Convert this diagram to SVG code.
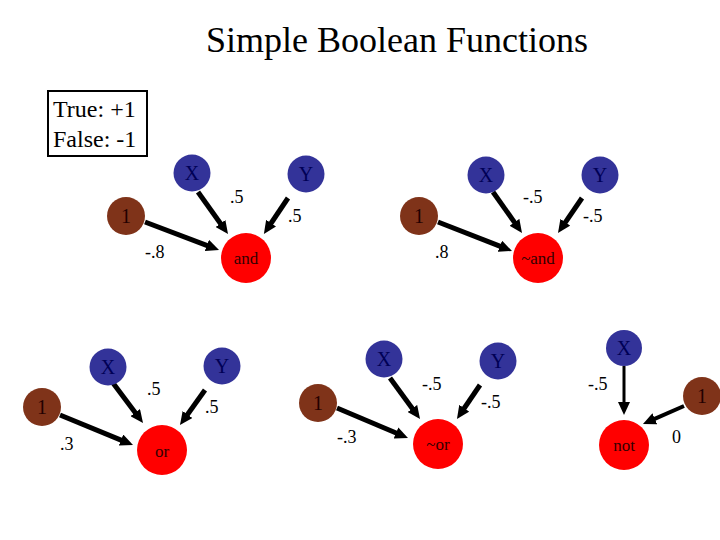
<svg xmlns="http://www.w3.org/2000/svg" width="720" height="540" viewBox="0 0 720 540">
<defs>
<style>
text{font-family:"Liberation Serif","Times New Roman",serif;}
.title{font-size:36px;fill:#000;text-anchor:middle;}
.box{fill:#fff;stroke:#000;stroke-width:2;}
.legend{font-size:24px;fill:#000;}
.in{fill:#333399;}
.bias{fill:#7f3319;}
.out{fill:#ff0000;}
.nt{font-size:20px;text-anchor:middle;}
.in-t{fill:#000055;}
.bias-t{fill:#220000;}
.out-t{font-size:17px;fill:#330000;text-anchor:middle;}
.w{font-size:18px;fill:#000;}
.e{stroke:#000;stroke-width:5;fill:none;marker-end:url(#ah);}
.e3{stroke:#000;stroke-width:3;fill:none;marker-end:url(#ah);}
.e4{stroke:#000;stroke-width:4;fill:none;marker-end:url(#ah);}
</style>
<marker id="ah" markerUnits="userSpaceOnUse" markerWidth="13" markerHeight="12" refX="4" refY="6" orient="auto">
<path d="M0,0 L13,6 L0,12 z" fill="#000"/>
</marker>
</defs>
<rect width="720" height="540" fill="#fff"/>
<text class="title" x="397" y="52">Simple Boolean Functions</text>
<g id="legend">
<rect class="box" x="48" y="91" width="99" height="65"/>
<text class="legend" x="53" y="117">True: +1</text>
<text class="legend" x="53" y="147">False: -1</text>
</g>
<g id="connectors">
<line class="e" x1="198" y1="192" x2="222.8" y2="226.7"/>
<line class="e" x1="288" y1="198" x2="268.9" y2="226.5"/>
<line class="e" x1="145" y1="222" x2="210.6" y2="246.8"/>
<line class="e" x1="493" y1="192" x2="516.8" y2="225.6"/>
<line class="e" x1="582" y1="198" x2="563.1" y2="225.6"/>
<line class="e" x1="438" y1="222" x2="503.6" y2="247.7"/>
<line class="e" x1="113" y1="383" x2="137.6" y2="415.8"/>
<line class="e" x1="205" y1="390" x2="185.2" y2="417.7"/>
<line class="e" x1="60" y1="415" x2="124.7" y2="441.6"/>
<line class="e" x1="390" y1="378" x2="414.7" y2="411.7"/>
<line class="e" x1="480" y1="385" x2="462" y2="411.5"/>
<line class="e" x1="337" y1="408" x2="399.7" y2="434.5"/>
<line class="e3" x1="624" y1="366" x2="624" y2="406"/>
<line class="e4" x1="684" y1="406" x2="651.2" y2="420.4"/>
</g>
<g id="weights">
<text class="w" x="230" y="203">.5</text>
<text class="w" x="288" y="222">.5</text>
<text class="w" x="145" y="258">-.8</text>
<text class="w" x="523" y="203">-.5</text>
<text class="w" x="583" y="222">-.5</text>
<text class="w" x="435" y="258">.8</text>
<text class="w" x="147" y="395">.5</text>
<text class="w" x="205" y="413">.5</text>
<text class="w" x="60" y="450">.3</text>
<text class="w" x="422" y="390">-.5</text>
<text class="w" x="481" y="408">-.5</text>
<text class="w" x="337" y="443">-.3</text>
<text class="w" x="588" y="390">-.5</text>
<text class="w" x="672" y="443">0</text>
</g>
<g id="and-x"><circle class="in" cx="192" cy="173" r="18.5"/><text class="nt in-t" x="192" y="180">X</text></g>
<g id="and-y"><circle class="in" cx="306" cy="174" r="18.5"/><text class="nt in-t" x="306" y="181">Y</text></g>
<g id="and-1"><circle class="bias" cx="126" cy="216" r="19"/><text class="nt bias-t" x="126" y="223">1</text></g>
<g id="and"><circle class="out" cx="246" cy="258" r="25"/><text class="out-t" x="246" y="264">and</text></g>
<g id="nand-x"><circle class="in" cx="486" cy="175" r="18.5"/><text class="nt in-t" x="486" y="182">X</text></g>
<g id="nand-y"><circle class="in" cx="600" cy="175" r="18.5"/><text class="nt in-t" x="600" y="182">Y</text></g>
<g id="nand-1"><circle class="bias" cx="419" cy="216" r="19"/><text class="nt bias-t" x="419" y="223">1</text></g>
<g id="nand"><circle class="out" cx="538" cy="258" r="25"/><text class="out-t" x="538" y="264">~and</text></g>
<g id="or-x"><circle class="in" cx="108" cy="367" r="18.5"/><text class="nt in-t" x="108" y="374">X</text></g>
<g id="or-y"><circle class="in" cx="222" cy="366" r="18.5"/><text class="nt in-t" x="222" y="373">Y</text></g>
<g id="or-1"><circle class="bias" cx="42" cy="407" r="19"/><text class="nt bias-t" x="42" y="414">1</text></g>
<g id="or"><circle class="out" cx="162" cy="450" r="25"/><text class="out-t" x="162" y="457">or</text></g>
<g id="nor-x"><circle class="in" cx="384" cy="359" r="18.5"/><text class="nt in-t" x="384" y="366">X</text></g>
<g id="nor-y"><circle class="in" cx="498" cy="361" r="18.5"/><text class="nt in-t" x="498" y="368">Y</text></g>
<g id="nor-1"><circle class="bias" cx="318" cy="403" r="19"/><text class="nt bias-t" x="318" y="410">1</text></g>
<g id="nor"><circle class="out" cx="438" cy="444" r="25"/><text class="out-t" x="438" y="450">~or</text></g>
<g id="not-x"><circle class="in" cx="624" cy="348" r="18"/><text class="nt in-t" x="624" y="355">X</text></g>
<g id="not-1"><circle class="bias" cx="702" cy="396" r="19"/><text class="nt bias-t" x="702" y="403">1</text></g>
<g id="not"><circle class="out" cx="624" cy="445" r="25"/><text class="out-t" x="624" y="451">not</text></g>
</svg>
